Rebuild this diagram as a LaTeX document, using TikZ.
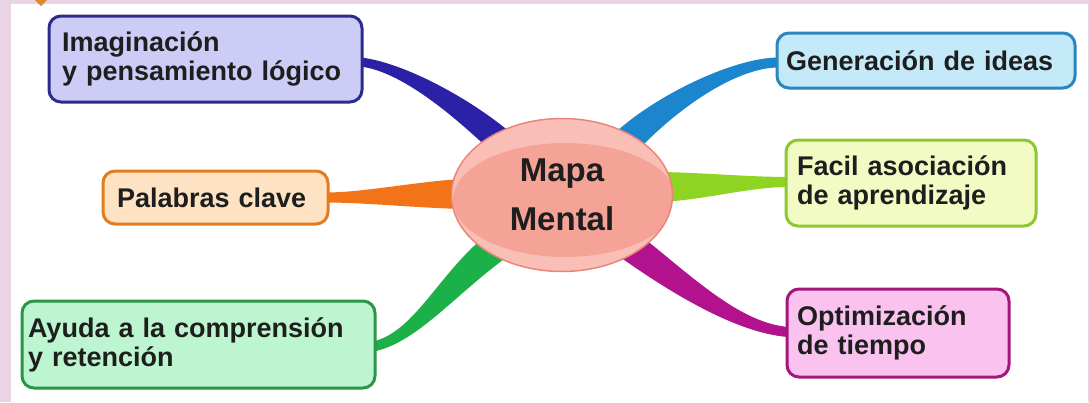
\documentclass[tikz,border=0pt]{standalone}
\usepackage{fontspec}
\setmainfont{Liberation Sans}
\usetikzlibrary{calc, shapes.geometric, backgrounds}

\definecolor{framepink}{HTML}{EAD4E3}
\definecolor{cornerorange}{HTML}{D88A2E}
\definecolor{textgray}{HTML}{1E1E1E}
\definecolor{mapafill}{HTML}{F6A397}
\definecolor{mapahigh}{HTML}{F9BFB7}
\definecolor{mapaedge}{HTML}{EA857A}
\definecolor{imagdraw}{HTML}{2C2C8C}  \definecolor{imagfill}{HTML}{CCCCF7}
\definecolor{clavedraw}{HTML}{E27C1E} \definecolor{clavefill}{HTML}{FDE3C3}
\definecolor{ayudadraw}{HTML}{2B9645} \definecolor{ayudafill}{HTML}{BCF5D0}
\definecolor{ideasdraw}{HTML}{2B85BF} \definecolor{ideasfill}{HTML}{C4E9F9}
\definecolor{facildraw}{HTML}{8FC733} \definecolor{facilfill}{HTML}{F1FBC3}
\definecolor{optimdraw}{HTML}{A3167C} \definecolor{optimfill}{HTML}{F9C2EF}
\definecolor{bluedark}{HTML}{2A21A6}
\definecolor{blueline}{HTML}{1B86CD}
\definecolor{orangeline}{HTML}{F37418}
\definecolor{limeline}{HTML}{8FD423}
\definecolor{greenline}{HTML}{1CB148}
\definecolor{magentaline}{HTML}{B2128D}

% tapered branch: colour, from, to, out vector, in vector, half width at from, half width at to
\newcommand{\branch}[7]{%
  \coordinate (bs) at (#2);
  \coordinate (be) at (#3);
  \coordinate (bc1) at ($(bs)+#4$);
  \coordinate (bc2) at ($(be)+#5$);
  \coordinate (bs1) at ($(bs)!#6!90:(bc1)$);
  \coordinate (bs2) at ($(bs)!#6!-90:(bc1)$);
  \coordinate (be1) at ($(be)!#7!-90:(bc2)$);
  \coordinate (be2) at ($(be)!#7!90:(bc2)$);
  \fill[#1] (bs1) .. controls ($(bc1)+(bs1)-(bs)$) and ($(bc2)+(be1)-(be)$) .. (be1)
    -- (be2) .. controls ($(bc2)+(be2)-(be)$) and ($(bc1)+(bs2)-(bs)$) .. (bs2) -- cycle;
}

\begin{document}
\begin{tikzpicture}[x=1pt, y=-1pt,
    idea/.style={rounded corners=12pt, line width=3pt, align=left, text=textgray,
      font=\fontsize{27}{29}\selectfont\bfseries},
    mapa/.style={ellipse, draw=mapaedge, line width=1.5pt, fill=mapahigh,
      minimum width=221pt, minimum height=153pt, inner sep=0pt, align=center, text=textgray,
      font=\fontsize{33}{49}\selectfont\bfseries,
      path picture={\fill[mapafill] ($(path picture bounding box.center)+(3,5)$)
        ellipse [x radius=112pt, y radius=57pt];}}]
    \useasboundingbox (0,0) rectangle (1089,402);

    % ---------------- CENTRE ----------------
    \node[mapa] (mapa) at (562,195) {Mapa\\Mental};

    % ---------------- LEFT IDEAS ----------------
    \node[idea, draw=imagdraw, fill=imagfill, inner xsep=13pt, text width=287pt, minimum height=86pt]
      (imag) at (205.5,59) {Imaginación\\y pensamiento lógico};
    \node[idea, draw=clavedraw, fill=clavefill, inner xsep=14pt, text width=197pt, minimum height=53pt]
      (clave) at (215.5,197.5) {Palabras clave};
    \node[idea, draw=ayudadraw, fill=ayudafill, inner xsep=6pt, text width=341pt, minimum height=87pt]
      (ayuda) at (198.5,344.5) {Ayuda a la comprensión\\y retención};

    % ---------------- RIGHT IDEAS ----------------
    \node[idea, draw=ideasdraw, fill=ideasfill, inner xsep=9pt, text width=280pt, minimum height=55pt]
      (ideas) at (926,60.5) {Generación de ideas};
    \node[idea, draw=facildraw, fill=facilfill, inner xsep=11pt, text width=228pt, minimum height=86pt]
      (facil) at (911,183) {Facil asociación\\de aprendizaje};
    \node[idea, draw=optimdraw, fill=optimfill, inner xsep=10pt, text width=202pt, minimum height=88pt]
      (optim) at (898,333) {Optimización\\de tiempo};

    % ---------------- FRAME AND BRANCHES ----------------
    \begin{scope}[on background layer]
        \fill[framepink] (0,0) rectangle (1089,402);
        \fill[white] (11,4) rectangle (1088,402);
        \fill[cornerorange] (41,-10) -- (49,-2) -- (41,6) -- (33,-2) -- cycle; % corner mark

        \branch{bluedark}{$(imag.east)+(-3,3)$}{$(mapa.center)+(-42,-35)$}{(45,5)}{(-45,-45)}{4.5pt}{14pt}
        \branch{blueline}{$(ideas.west)+(3,2)$}{$(mapa.center)+(48,-35)$}{(-50,0)}{(35,-45)}{5pt}{15pt}
        \branch{orangeline}{$(clave.east)+(-3,0)$}{$(mapa.center)+(-92,-1)$}{(40,0)}{(-40,0)}{5pt}{15pt}
        \branch{limeline}{$(facil.west)+(3,-1)$}{$(mapa.center)+(93,-8)$}{(-40,0)}{(40,0)}{5pt}{15pt}
        \branch{greenline}{$(ayuda.east)+(-3,2)$}{$(mapa.center)+(-57,45)$}{(45,-10)}{(-55,38)}{5pt}{15pt}
        \branch{magentaline}{$(optim.west)+(3,-1)$}{$(mapa.center)+(53,40)$}{(-55,-4)}{(55,40)}{5pt}{15pt}
    \end{scope}
\end{tikzpicture}
\end{document}
